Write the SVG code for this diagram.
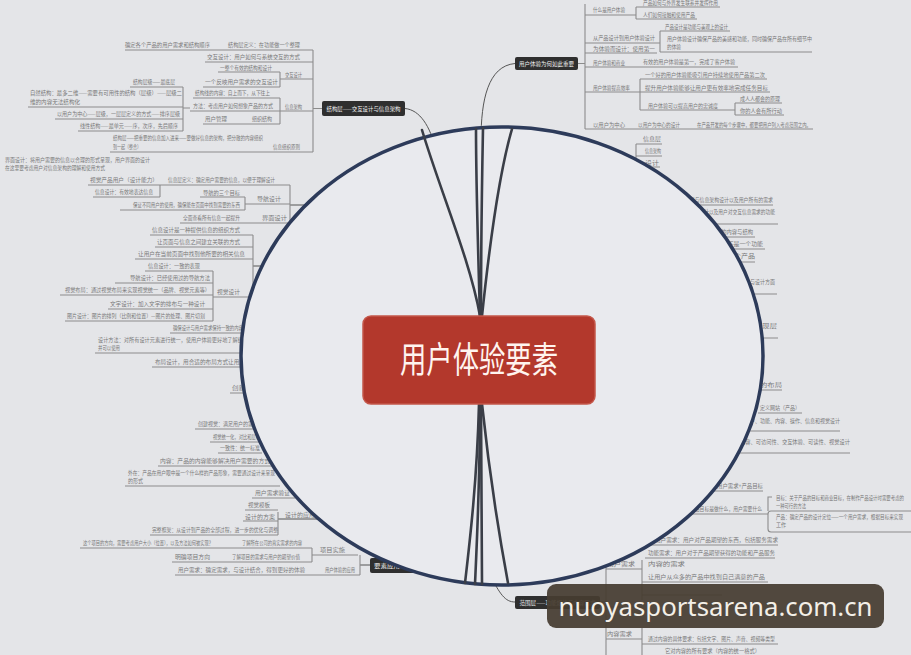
<svg xmlns="http://www.w3.org/2000/svg" width="911" height="655" viewBox="0 0 911 655">
<style>
.t{font-family:"Noto Sans CJK SC","Noto Sans",sans-serif;font-size:5.5px;fill:#787878}
.u{stroke:#8c8c8c;stroke-width:1.1;fill:none}
.nb{fill:#2f2f2f}
.nt{font-family:"Noto Sans CJK SC","Noto Sans",sans-serif;font-size:5.5px;fill:#f2f2f2}
.thin{stroke:#555;stroke-width:1;fill:none}
.thick{stroke:#3a3e47;stroke-width:2.6;fill:none;stroke-linecap:round}
</style>
<rect width="911" height="655" fill="#e4e5e8"/>

<g id="connectors-outer">
<path class="thin" d="M405,108.5 C420,110 430,126 436,150"/>
<path class="thin" d="M481,140 C481,100 488,66 515,63.5"/>
<path class="thin" d="M490,575 C500,594 505,602 515,602"/>
<path class="thin" d="M290,205H312 M253,266H266 M278,519H322 M360,565H370"/>
</g>

<g id="n-why">
<rect class="nb" x="515" y="57" width="63" height="13" rx="2"/>
<text class="nt" x="546.5" y="65.8" text-anchor="middle" textLength="55" lengthAdjust="spacingAndGlyphs">用户体验为何如此重要</text>
<path class="u" d="M578,63.5H585 M585,4V129 M585,15H636 M636,7V19 M636,7H720 M636,19H697 M585,43H660 M660,31V52 M660,31H730 M660,52H812 M585,53H657 M585,67H738 M585,92H640 M640,79V110 M640,79H767 M640,92H770 M640,110H735 M735,103V115 M735,103H782 M735,115H784 M585,129H813"/>
<text class="t" x="593" y="12" textLength="32" lengthAdjust="spacingAndGlyphs">什么是用户体验</text>
<text class="t" x="643" y="5" textLength="75" lengthAdjust="spacingAndGlyphs">产品如何与外界发生联系并发挥作用</text>
<text class="t" x="643" y="17" textLength="52" lengthAdjust="spacingAndGlyphs">人们如何接触和使用产品</text>
<text class="t" x="593" y="40" textLength="62" lengthAdjust="spacingAndGlyphs">从产品设计到用户体验设计</text>
<text class="t" x="665" y="29" textLength="63" lengthAdjust="spacingAndGlyphs">产品设计是功能与美观上的设计</text>
<text class="t" x="667" y="41" textLength="145" lengthAdjust="spacingAndGlyphs">用户体验设计确保产品的美感和功能，同时确保产品在所有细节中</text>
<text class="t" x="667" y="49" textLength="14" lengthAdjust="spacingAndGlyphs">的体验</text>
<text class="t" x="593" y="51" textLength="62" lengthAdjust="spacingAndGlyphs">为体验而设计：使用第一</text>
<text class="t" x="593" y="65" textLength="32" lengthAdjust="spacingAndGlyphs">用户体验和商业</text>
<text class="t" x="643" y="64" textLength="92" lengthAdjust="spacingAndGlyphs">有效的用户体验是第一，完成了客户体验</text>
<text class="t" x="593" y="90" textLength="37" lengthAdjust="spacingAndGlyphs">用户体验提高效率</text>
<text class="t" x="645" y="77" textLength="120" lengthAdjust="spacingAndGlyphs">一个好的用户体验能吸引用户持续地使用产品第二次</text>
<text class="t" x="645" y="90" textLength="123" lengthAdjust="spacingAndGlyphs">提升用户体验能够让用户更有效率地完成任务目标</text>
<text class="t" x="648" y="108" textLength="70" lengthAdjust="spacingAndGlyphs">用户体验可以提高用户的忠诚度</text>
<text class="t" x="740" y="101" textLength="40" lengthAdjust="spacingAndGlyphs">成人人都会的原理</text>
<text class="t" x="740" y="113" textLength="42" lengthAdjust="spacingAndGlyphs">你的人会有所行动</text>
<text class="t" x="593" y="127" textLength="32" lengthAdjust="spacingAndGlyphs">以用户为中心</text>
<text class="t" x="638" y="127" textLength="42" lengthAdjust="spacingAndGlyphs">以用户为中心的设计</text>
<text class="t" x="697" y="127" textLength="114" lengthAdjust="spacingAndGlyphs">在产品开发的每个步骤中，都要把用户列入考虑范围之内。</text>
</g>

<g id="n-structure">
<rect class="nb" x="322" y="101" width="83" height="15" rx="2"/>
<text class="nt" x="363.5" y="110.5" text-anchor="middle" textLength="74" lengthAdjust="spacingAndGlyphs">结构层——交互设计与信息架构</text>
<path class="u" d="M322,108.5H313 M313,50V152 M125,50H313 M205,62H313 M280,79H313 M280,72V87 M218,72H280 M203,87H280 M280,111H313 M280,98V124 M193,98H280 M190,111H280 M203,124H280 M183,87V131 M183,108H190 M130,87H183 M28,107H183 M55,119H183 M78,131H183 M110,152H313"/>
<text class="t" x="125" y="47" textLength="85" lengthAdjust="spacingAndGlyphs">确定各个产品的用户需求和结构顺序</text>
<text class="t" x="228" y="47" textLength="72" lengthAdjust="spacingAndGlyphs">结构层定义：在功能做一个整理</text>
<text class="t" x="207" y="59" textLength="93" lengthAdjust="spacingAndGlyphs">交互设计：用户如何与系统交互的方式</text>
<text class="t" x="220" y="70" textLength="52" lengthAdjust="spacingAndGlyphs">一整个有效的结构和设计</text>
<text class="t" x="285" y="77" textLength="17" lengthAdjust="spacingAndGlyphs">交互设计</text>
<text class="t" x="205" y="84" textLength="73" lengthAdjust="spacingAndGlyphs">一个反映用户需求的交互设计</text>
<text class="t" x="195" y="95" textLength="75" lengthAdjust="spacingAndGlyphs">结构线的内容：自上而下，从下往上</text>
<text class="t" x="193" y="108" textLength="80" lengthAdjust="spacingAndGlyphs">方法：考虑用户如何想象产品的方式</text>
<text class="t" x="285" y="109" textLength="17" lengthAdjust="spacingAndGlyphs">信息架构</text>
<text class="t" x="205" y="121" textLength="22" lengthAdjust="spacingAndGlyphs">用户管理</text>
<text class="t" x="252" y="121" textLength="20" lengthAdjust="spacingAndGlyphs">组织结构</text>
<text class="t" x="133" y="84" textLength="42" lengthAdjust="spacingAndGlyphs">结构层级——最底层</text>
<text class="t" x="30" y="95" textLength="152" lengthAdjust="spacingAndGlyphs">自然结构：最多二维——需要有可用性的结构（层级）——层级二</text>
<text class="t" x="30" y="104" textLength="50" lengthAdjust="spacingAndGlyphs">维的内容无法结构化</text>
<text class="t" x="57" y="116" textLength="123" lengthAdjust="spacingAndGlyphs">以用户为中心——层级，一层层定义的方式——排序层级</text>
<text class="t" x="80" y="128" textLength="98" lengthAdjust="spacingAndGlyphs">线性结构——最单元——序，次序，先后顺序</text>
<text class="t" x="113" y="140" textLength="150" lengthAdjust="spacingAndGlyphs">结构层——把重要的信息加入进来——要做好信息的架构，把分散的内容组织</text>
<text class="t" x="113" y="149" textLength="28" lengthAdjust="spacingAndGlyphs">到一起（整合）</text>
<text class="t" x="273" y="149" textLength="27" lengthAdjust="spacingAndGlyphs">信息组织原则</text>
</g>

<g id="n-interface">
<text class="t" x="5" y="162" textLength="145" lengthAdjust="spacingAndGlyphs">界面设计：将用户需要的信息以合理的形式呈现，用户界面的设计</text>
<text class="t" x="5" y="170" textLength="100" lengthAdjust="spacingAndGlyphs">在这里要考虑用户对信息架构的理解和使用方式</text>
<path class="u" d="M160,185V197 M88,185H160 M93,197H160 M160,185H290 M290,185V223 M245,204H290 M245,197V210 M200,197H245 M120,210H245 M180,223H290"/>
<text class="t" x="90" y="182" textLength="68" lengthAdjust="spacingAndGlyphs">视觉产品用户（设计能力）</text>
<text class="t" x="95" y="194" textLength="58" lengthAdjust="spacingAndGlyphs">信息设计：有效地表达信息</text>
<text class="t" x="168" y="182" textLength="107" lengthAdjust="spacingAndGlyphs">信息层定义：确定用户需要的信息，以便于理解设计</text>
<text class="t" x="203" y="195" textLength="37" lengthAdjust="spacingAndGlyphs">导航的三个目标</text>
<text class="t" x="257" y="201" textLength="24" lengthAdjust="spacingAndGlyphs">导航设计</text>
<text class="t" x="133" y="207" textLength="107" lengthAdjust="spacingAndGlyphs">保证不同用户的使用，确保能在页面中找到需要的东西</text>
<text class="t" x="183" y="220" textLength="57" lengthAdjust="spacingAndGlyphs">全面查看所有信息一起提升</text>
<text class="t" x="262" y="220" textLength="25" lengthAdjust="spacingAndGlyphs">界面设计</text>
</g>

<g id="n-visual">
<path class="u" d="M150,235H253 M253,235V297 M155,247H253 M135,259H253 M213,271V321 M145,271H213 M115,283H213 M60,295H213 M108,309H213 M65,321H213 M213,297H253"/>
<text class="t" x="152" y="232" textLength="88" lengthAdjust="spacingAndGlyphs">信息设计是一种提供信息的组织方式</text>
<text class="t" x="157" y="244" textLength="83" lengthAdjust="spacingAndGlyphs">让页面与信息之间建立关联的方式</text>
<text class="t" x="138" y="256" textLength="107" lengthAdjust="spacingAndGlyphs">让用户在当前页面中找到他所要的相关信息</text>
<text class="t" x="148" y="268" textLength="52" lengthAdjust="spacingAndGlyphs">信息设计：一致的表现</text>
<text class="t" x="130" y="280" textLength="80" lengthAdjust="spacingAndGlyphs">导航设计：已经使用过的导航方法</text>
<text class="t" x="65" y="292" textLength="145" lengthAdjust="spacingAndGlyphs">视觉布局：通过视觉布局来实现视觉统一（品牌、视觉元素等）</text>
<text class="t" x="217" y="294" textLength="23" lengthAdjust="spacingAndGlyphs">视觉设计</text>
<text class="t" x="110" y="306" textLength="95" lengthAdjust="spacingAndGlyphs">文字设计：加入文字的排布与一种设计</text>
<text class="t" x="67" y="318" textLength="138" lengthAdjust="spacingAndGlyphs">图片设计：图片的排列（比例和位置）—图片的处理、图片切割</text>
</g>

<g id="n-surface">
<path class="u" d="M170,333H250 M95,353H250 M152,367H250 M230,393H250 M195,429H262 M210,442H262 M218,453H262 M158,466H272 M125,486H280"/>
<text class="t" x="173" y="330" textLength="70" lengthAdjust="spacingAndGlyphs">确保设计与用户需求保持一致的内容</text>
<text class="t" x="98" y="342" textLength="150" lengthAdjust="spacingAndGlyphs">设计方法：对所有设计元素进行统一，使用户体验更好地了解结构</text>
<text class="t" x="98" y="350" textLength="22" lengthAdjust="spacingAndGlyphs">并可以使用</text>
<text class="t" x="155" y="364" textLength="90" lengthAdjust="spacingAndGlyphs">布局设计，用合适的布局方式让用户</text>
<text class="t" x="232" y="390" textLength="13" lengthAdjust="spacingAndGlyphs">创新</text>
<text class="t" x="198" y="426" textLength="60" lengthAdjust="spacingAndGlyphs">创建视觉：满足用户的需求</text>
<text class="t" x="213" y="439" textLength="47" lengthAdjust="spacingAndGlyphs">视觉统一化，对比和层次</text>
<text class="t" x="220" y="450" textLength="40" lengthAdjust="spacingAndGlyphs">一致性：统一标准</text>
<text class="t" x="160" y="463" textLength="110" lengthAdjust="spacingAndGlyphs">内容：产品的内容能够解决用户需要的方式</text>
<text class="t" x="128" y="475" textLength="147" lengthAdjust="spacingAndGlyphs">外在：产品在用户眼中是一个什么样的产品形象，需要通过设计来呈现</text>
<text class="t" x="128" y="483" textLength="15" lengthAdjust="spacingAndGlyphs">的形式</text>
</g>

<g id="n-apply">
<path class="u" d="M252,498H295 M245,510H278 M278,512V535 M243,521H278 M150,535H278 M80,548H312 M312,548V562 M312,555H358 M172,562H312 M175,575H360 M360,555V575"/>
<text class="t" x="255" y="495" textLength="35" lengthAdjust="spacingAndGlyphs">用户需求验证</text>
<text class="t" x="248" y="507" textLength="22" lengthAdjust="spacingAndGlyphs">视觉模板</text>
<text class="t" x="245" y="519" textLength="30" lengthAdjust="spacingAndGlyphs">设计的方案</text>
<text class="t" x="285" y="517" textLength="30" lengthAdjust="spacingAndGlyphs">设计的应用</text>
<text class="t" x="152" y="532" textLength="126" lengthAdjust="spacingAndGlyphs">完整框架：从设计到产品的全部过程，进一步的优化与调整</text>
<text class="t" x="83" y="545" textLength="130" lengthAdjust="spacingAndGlyphs">这个项目的方向，需要考虑用户大小（位置），以及方法如何被实现？</text>
<text class="t" x="242" y="545" textLength="60" lengthAdjust="spacingAndGlyphs">了解所在公司的真实需求的内容</text>
<text class="t" x="320" y="552" textLength="25" lengthAdjust="spacingAndGlyphs">项目实施</text>
<text class="t" x="175" y="559" textLength="35" lengthAdjust="spacingAndGlyphs">明确项目方向</text>
<text class="t" x="232" y="559" textLength="68" lengthAdjust="spacingAndGlyphs">了解项目的需求与用户的期望价值</text>
<text class="t" x="178" y="572" textLength="127" lengthAdjust="spacingAndGlyphs">用户需求：确定需求，与设计结合，得到更好的体验</text>
<text class="t" x="325" y="572" textLength="30" lengthAdjust="spacingAndGlyphs">用户体验的应用</text>
<rect class="nb" x="370" y="558" width="60" height="15" rx="2"/>
<text class="nt" x="374" y="568" textLength="26" lengthAdjust="spacingAndGlyphs">要素应用</text>
</g>

<g id="n-info">
<path class="u" d="M636,144V167 M636,144H662 M636,156H662 M636,167H660 M680,205H773 M690,224H778 M700,237H755 M710,249H765 M720,262H755 M740,294H777 M760,338H778 M760,390H782 M758,413H802 M745,431H840 M740,453H850"/>
<text class="t" x="643" y="141" textLength="18" lengthAdjust="spacingAndGlyphs">信息层</text>
<text class="t" x="645" y="153" textLength="16" lengthAdjust="spacingAndGlyphs">信息架构</text>
<text class="t" x="645" y="165" textLength="14" lengthAdjust="spacingAndGlyphs">设计</text>
<text class="t" x="680" y="202" textLength="93" lengthAdjust="spacingAndGlyphs">结构层与信息架构设计以及用户所有的需求</text>
<text class="t" x="690" y="214" textLength="85" lengthAdjust="spacingAndGlyphs">信息设计以及用户对交互信息需求的功能</text>
<text class="t" x="700" y="234" textLength="53" lengthAdjust="spacingAndGlyphs">导航设计的内容与结构</text>
<text class="t" x="710" y="246" textLength="53" lengthAdjust="spacingAndGlyphs">功能是不是一个功能</text>
<text class="t" x="720" y="258" textLength="35" lengthAdjust="spacingAndGlyphs">是一个产品</text>
<text class="t" x="730" y="284" textLength="45" lengthAdjust="spacingAndGlyphs">视觉设计与设计方面</text>
<text class="t" x="755" y="328" textLength="22" lengthAdjust="spacingAndGlyphs">表现层</text>
<text class="t" x="760" y="387" textLength="22" lengthAdjust="spacingAndGlyphs">的布局</text>
<text class="t" x="760" y="410" textLength="40" lengthAdjust="spacingAndGlyphs">定义网站（产品）</text>
<text class="t" x="745" y="423" textLength="95" lengthAdjust="spacingAndGlyphs">用户、功能、内容、操作、信息和视觉设计</text>
<text class="t" x="740" y="444" textLength="110" lengthAdjust="spacingAndGlyphs">内容、可访问性、交互体验、可读性、视觉设计</text>
</g>

<g id="n-strategy">
<path class="u" d="M700,491H763 M680,514H768 M768,511V497H772 M640,545H778 M645,558H775 M606,569H642 M642,560V600 M642,582H768 M642,595H722 M606,562V655 M600,602H606 M606,607H642 M606,639H642 M642,628V655 M642,644H778"/>
<rect x="768" y="511" width="150" height="21" rx="3" fill="none" stroke="#8c8c8c" stroke-width="1.1"/>
<text class="t" x="717" y="488" textLength="46" lengthAdjust="spacingAndGlyphs">用户需求+产品目标</text>
<text class="t" x="690" y="511" textLength="72" lengthAdjust="spacingAndGlyphs">产品目标是做什么，用户需要什么</text>
<text class="t" x="776" y="500" textLength="128" lengthAdjust="spacingAndGlyphs">目标：关于产品的目标和商业目标，在制作产品设计时需要考虑的</text>
<text class="t" x="776" y="508" textLength="30" lengthAdjust="spacingAndGlyphs">一种可行的方法</text>
<text class="t" x="776" y="519" textLength="127" lengthAdjust="spacingAndGlyphs">产品：确定产品的设计定位——一个用户需求，根据目标来实现</text>
<text class="t" x="776" y="527" textLength="10" lengthAdjust="spacingAndGlyphs">工作</text>
<text class="t" x="655" y="542" textLength="123" lengthAdjust="spacingAndGlyphs">用户需求：用户对产品期望的东西，包括服务需求</text>
<text class="t" x="648" y="555" textLength="127" lengthAdjust="spacingAndGlyphs">功能需求：用户对于产品期望获得的功能和产品服务</text>
<text class="t" x="607" y="566" textLength="28" lengthAdjust="spacingAndGlyphs">用户需求</text>
<text class="t" x="648" y="566" textLength="37" lengthAdjust="spacingAndGlyphs">内容的需求</text>
<text class="t" x="648" y="579" textLength="117" lengthAdjust="spacingAndGlyphs">让用户从众多的产品中找到自己满意的产品</text>
<text class="t" x="607" y="636" textLength="25" lengthAdjust="spacingAndGlyphs">内容需求</text>
<text class="t" x="648" y="641" textLength="127" lengthAdjust="spacingAndGlyphs">通过内容的具体要求：包括文字、图片、声音、视频等类型</text>
<text class="t" x="665" y="653" textLength="95" lengthAdjust="spacingAndGlyphs">它对内容的所有要求（内容的统一格式）</text>
<rect class="nb" x="515" y="596" width="85" height="13" rx="2"/>
<text class="nt" x="557.5" y="604.8" text-anchor="middle" textLength="76" lengthAdjust="spacingAndGlyphs">范围层——功能规格与内容需求</text>
</g>

<ellipse id="lens" cx="502" cy="356" rx="261" ry="229" fill="#e9eaee" stroke="#2d3b5a" stroke-width="3.5"/>

<g id="connectors">
<path class="thick" d="M480,316 C470,260 440,190 422,130"/>
<path class="thick" d="M480,316 C478,250 476,180 476,129"/>
<path class="thick" d="M481,316 C481,250 482,180 483,128"/>
<path class="thick" d="M482,316 C490,240 500,170 512,129"/>
<path class="thick" d="M479,404 C477,480 470,540 465,583"/>
<path class="thick" d="M480,404 C480,480 477,540 475,584"/>
<path class="thick" d="M481,404 C481,480 482,540 482,584"/>
<path class="thick" d="M482,404 C490,480 500,540 508,583"/>
</g>

<g id="n-root">
<rect x="363" y="316" width="232" height="88" rx="8" fill="#b3382c" stroke="#c4574a" stroke-width="1.5"/>
<text x="479" y="373" text-anchor="middle" font-family="Noto Sans CJK SC, Noto Sans, sans-serif" font-size="36" fill="#fff4ef" textLength="158" lengthAdjust="spacingAndGlyphs">用户体验要素</text>
</g>

<g id="watermark">
<rect x="547" y="584" width="337" height="44" rx="9" fill="#463c30" fill-opacity="0.93"/>
<text x="715.5" y="616" text-anchor="middle" font-family="Noto Sans, Open Sans, sans-serif" font-size="25" fill="#f3efe8" textLength="314" lengthAdjust="spacingAndGlyphs">nuoyasportsarena.com.cn</text>
</g>
</svg>
